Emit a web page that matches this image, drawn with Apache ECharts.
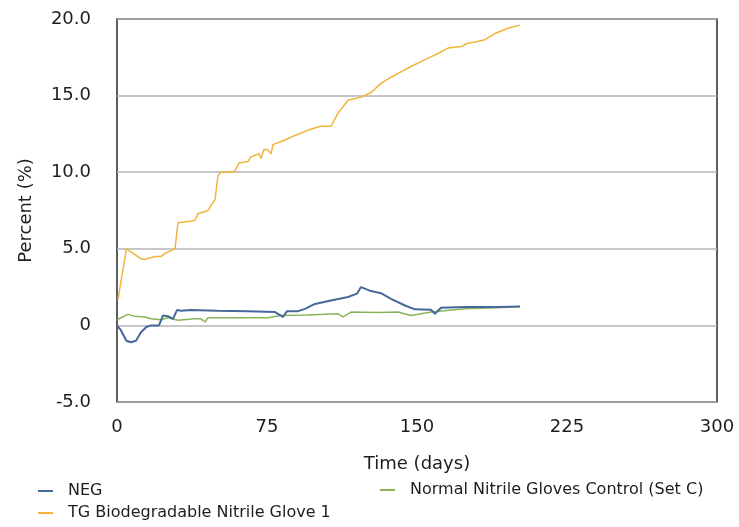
<!DOCTYPE html>
<html>
<head>
<meta charset="utf-8">
<script src="https://cdn.jsdelivr.net/npm/echarts@6/dist/echarts.min.js"></script>
<style>
html,body{margin:0;padding:0;background:#fff;}
#chart{width:739px;height:527px;}
</style>
</head>
<body>
<div id="chart"></div>
<script>
// ---- Data ----
const seriesNames = ['NEG', 'TG Biodegradable Nitrile Glove 1', 'Normal Nitrile Gloves Control (Set C)'];

const negDays = [0, 2, 4.7, 7, 9.5, 12, 14.7, 17, 21, 23, 25.5, 28, 29, 30, 32, 37, 50, 65, 79, 83, 85, 90.5, 94, 99, 107, 115.5, 120, 122, 127, 132, 137, 144, 149, 157, 159, 162, 174, 190.5, 201.5];
const negValues = [0.0, -0.33, -1.0, -1.1, -1.0, -0.45, -0.1, 0.0, 0.0, 0.65, 0.6, 0.43, 0.3, 1.0, 0.95, 1.0, 0.95, 0.92, 0.87, 0.55, 0.93, 0.93, 1.08, 1.4, 1.63, 1.85, 2.07, 2.5, 2.24, 2.1, 1.73, 1.3, 1.05, 1.02, 0.76, 1.15, 1.2, 1.2, 1.24];

const tgDays = [0.5, 4.7, 7, 12, 13.8, 19, 22, 24, 29, 30.5, 31.5, 36.5, 39, 40.5, 42, 45.5, 47, 49, 50.5, 52, 57, 59, 61, 65.5, 67, 71, 72, 73.5, 75.5, 77, 78, 84, 89, 95.5, 102, 107, 110.5, 115.5, 122, 127, 132, 137, 142, 147, 154, 160.5, 165.5, 172, 175, 179, 184, 189, 195.5, 201.5];
const tgValues = [1.7, 5.0, 4.8, 4.35, 4.3, 4.5, 4.5, 4.7, 5.0, 6.7, 6.75, 6.8, 6.86, 7.3, 7.35, 7.5, 7.85, 8.2, 9.8, 10.0, 10.0, 10.1, 10.6, 10.7, 11.0, 11.2, 10.9, 11.5, 11.45, 11.2, 11.8, 12.1, 12.4, 12.75, 13.0, 13.0, 13.85, 14.7, 14.9, 15.2, 15.8, 16.2, 16.55, 16.9, 17.35, 17.75, 18.1, 18.2, 18.4, 18.5, 18.65, 19.05, 19.4, 19.6];

const ctrlDays = [0, 5.5, 9, 14, 17, 22, 25.5, 30.5, 39, 42, 44, 45.5, 60, 75.5, 82, 95, 110.5, 113, 117, 130, 140.5, 147, 157, 174, 190, 201.5];
const ctrlValues = [0.37, 0.72, 0.59, 0.55, 0.43, 0.37, 0.5, 0.33, 0.43, 0.43, 0.22, 0.5, 0.5, 0.5, 0.65, 0.68, 0.76, 0.55, 0.87, 0.85, 0.87, 0.65, 0.87, 1.08, 1.15, 1.24];

const xTicks = [0, 75, 150, 225, 300];
const yTicks = [-5, 0, 5, 10, 15, 20];

const colors = ['#45699b', '#f1b43c', '#88b45c'];

function pairs(xs, ys) { return xs.map((x, i) => [x, ys[i]]); }

const chart = echarts.init(document.getElementById('chart'), null, {renderer: 'canvas'});
const font = 'DejaVu Sans';

const legendBase = {
  icon: 'rect', itemWidth: 15, itemHeight: 2, itemGap: 10,
  textStyle: {fontFamily: font, fontSize: 16, color: '#1e1e1e', padding: [0, 0, 0, 10]},
  orient: 'vertical', selectedMode: false
};

chart.setOption({
  animation: false,
  backgroundColor: '#fff',
  color: colors,
  grid: {left: 117, top: 19, width: 600, height: 383, show: true, borderColor: '#2a2a2a', borderWidth: 1.5, backgroundColor: '#fff'},
  legend: [
    Object.assign({}, legendBase, {data: [seriesNames[0]], left: 33, top: 478}),
    Object.assign({}, legendBase, {data: [seriesNames[1]], left: 33, top: 500}),
    Object.assign({}, legendBase, {data: [seriesNames[2]], left: 375, top: 477})
  ],
  xAxis: {
    type: 'value', min: xTicks[0], max: xTicks[xTicks.length - 1], interval: 75,
    name: 'Time (days)', nameLocation: 'middle', nameGap: 53,
    nameTextStyle: {fontFamily: font, fontSize: 18, color: '#1e1e1e'},
    axisLine: {show: false}, axisTick: {show: false}, splitLine: {show: false},
    axisLabel: {fontFamily: font, fontSize: 18, color: '#1e1e1e', margin: 16}
  },
  yAxis: {
    type: 'value', min: yTicks[0], max: yTicks[yTicks.length - 1], interval: 5,
    name: 'Percent (%)', nameLocation: 'middle', nameGap: 82,
    nameTextStyle: {fontFamily: font, fontSize: 18, color: '#1e1e1e'},
    axisLine: {show: false}, axisTick: {show: false},
    splitLine: {show: true, lineStyle: {color: '#b4b4b4', width: 1.5}},
    axisLabel: {fontFamily: font, fontSize: 18, color: '#1e1e1e', margin: 26,
      formatter: v => v === 0 ? '0' : v.toFixed(1)}
  },
  series: [
    {name: seriesNames[0], type: 'line', data: pairs(negDays, negValues), showSymbol: false, lineStyle: {width: 2, color: colors[0]}, z: 4},
    {name: seriesNames[1], type: 'line', data: pairs(tgDays, tgValues), showSymbol: false, lineStyle: {width: 1.5, color: colors[1]}, z: 3},
    {name: seriesNames[2], type: 'line', data: pairs(ctrlDays, ctrlValues), showSymbol: false, lineStyle: {width: 1.5, color: colors[2]}, z: 3}
  ]
});
</script>
</body>
</html>
